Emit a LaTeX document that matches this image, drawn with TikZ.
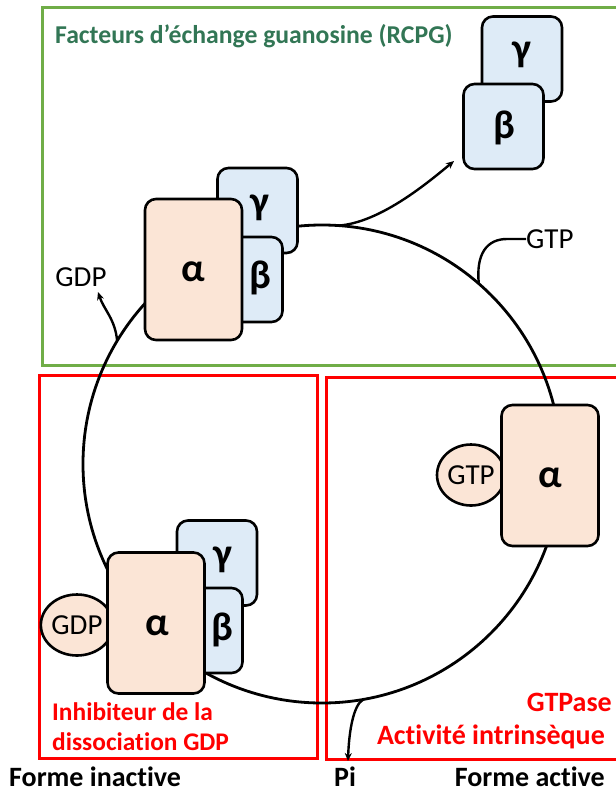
\documentclass[tikz,border=0pt]{standalone}
\usepackage{fontspec}
\setmainfont{Carlito}[Ligatures=NoCommon]
\usetikzlibrary{arrows.meta,shapes.geometric}
\definecolor{peach}{HTML}{FBE5D6}
\definecolor{paleblue}{HTML}{DEEBF7}
\definecolor{framegreen}{HTML}{70AD47}
\definecolor{titlegreen}{RGB}{50,118,85}
\definecolor{framered}{HTML}{FF0000}
\begin{document}
\begin{tikzpicture}[x=1pt,y=-1pt,
  subunit/.style={draw=black, line width=2.6pt, rounded corners=11pt, inner sep=0pt, outer sep=0pt},
  alphabox/.style={subunit, fill=peach, minimum width=97pt, minimum height=141pt},
  bgbox/.style={subunit, fill=paleblue, minimum width=80pt, minimum height=85pt},
  nucleo/.style={draw=black, line width=2.6pt, fill=peach, ellipse, minimum width=68pt, minimum height=61pt, inner sep=0pt, outer sep=0pt, font=\fontsize{29}{30}\selectfont},
  greek/.style={font=\fontsize{40}{40}\selectfont\bfseries, inner sep=0pt},
  lbl/.style={font=\fontsize{29}{30}\selectfont, inner sep=0pt},
  redlbl/.style={font=\fontsize{25.4}{28}\selectfont\bfseries, text=framered, inner sep=0pt},
  redlblb/.style={font=\fontsize{28}{30}\selectfont\bfseries, text=framered, inner sep=0pt},
  formlbl/.style={font=\fontsize{28}{30}\selectfont\bfseries, inner sep=0pt},
  conn/.style={line width=2.4pt, -{Stealth[length=8pt,width=7pt]}},
  frame/.style={line width=3pt}
]
\useasboundingbox (0,0) rectangle (616,793);
\clip (0,0) rectangle (616,793);

% frames
\draw[frame, draw=framegreen] (42,7) rectangle (640,365);
\draw[frame, draw=framered] (39,375) rectangle (317,758);
\draw[frame, draw=framered] (326,377) rectangle (640,759);

% cycle
\node (cyc) [circle, draw=black, line width=2.8pt, minimum size=478pt, inner sep=0pt, outer sep=0pt] at (322,464) {};

% connectors
\coordinate (relBG) at (454,161);
\coordinate (relGDP) at (98,292);
\coordinate (gtpbend) at (507,239);
\coordinate (relPi) at (348,761);
\draw[conn] (cyc.86.4) .. controls +(40,-3) and +(-30,25) .. (relBG);
\draw[conn] (cyc.149.5) .. controls +(-2,-22) and +(6,18) .. (relGDP);
\node (gtplab) [lbl, anchor=west] at (526,239) {GTP};
\draw[line width=2.4pt] (cyc.49.8) .. controls +(-3,-30) and +(-20,0) .. (gtpbend) -- (gtplab.west);
\draw[conn] (cyc.-80.9) .. controls +(-10,5) and +(1,-30) .. (relPi);

% title
\node (title) [anchor=west, font=\fontsize{25.7}{28}\selectfont\bfseries, text=titlegreen, inner sep=0pt] at (55,36) {Facteurs d’échange guanosine (RCPG)};

% top complex
\node (gammaA) [bgbox] at (257.5,210.5) {};
\node (betaA) [bgbox] at (242.5,279.5) {};
\node (alphaA) [alphabox] at (193.5,269.5) {};
\node (gammaAt) [greek] at (260,208) {γ};
\node (betaAt) [greek] at (260,278) {β};
\node (alphaAt) [greek] at (193,272) {α};
\node (gdplab) [lbl] at (81,277) {GDP};

% free beta-gamma
\node (gammaB) [bgbox] at (522,59) {};
\node (betaB) [bgbox] at (503.5,126.5) {};
\node (gammaBt) [greek] at (522,55) {γ};
\node (betaBt) [greek] at (504,128) {β};

% bottom-left complex
\node (gdpnuc) [nucleo] at (77,625) {GDP};
\node (gammaC) [bgbox] at (217,563) {};
\node (betaC) [bgbox] at (202.5,630.5) {};
\node (alphaC) [alphabox] at (156,623) {};
\node (gammaCt) [greek] at (223,560) {γ};
\node (betaCt) [greek] at (222,630) {β};
\node (alphaCt) [greek] at (157,626) {α};

% right complex
\node (gtpnuc) [nucleo] at (471,475) {GTP};
\node (alphaD) [alphabox] at (550,475.5) {};
\node (alphaDt) [greek] at (550,478) {α};

% red labels
\node (inh1) [redlbl, anchor=west] at (52,712) {Inhibiteur de la};
\node (inh2) [redlbl, anchor=west] at (52,742) {dissociation GDP};
\node (gtpase) [redlblb, anchor=east] at (612,702) {GTPase};
\node (activ) [redlblb, anchor=east] at (605,737) {Activité intrinsèque};

% bottom labels
\node (finact) [formlbl, anchor=base west] at (9,786) {Forme inactive};
\node (pi) [formlbl, anchor=base] at (345,786) {Pi};
\node (fact) [formlbl, anchor=base east] at (605,786) {Forme active};
\end{tikzpicture}
\end{document}
